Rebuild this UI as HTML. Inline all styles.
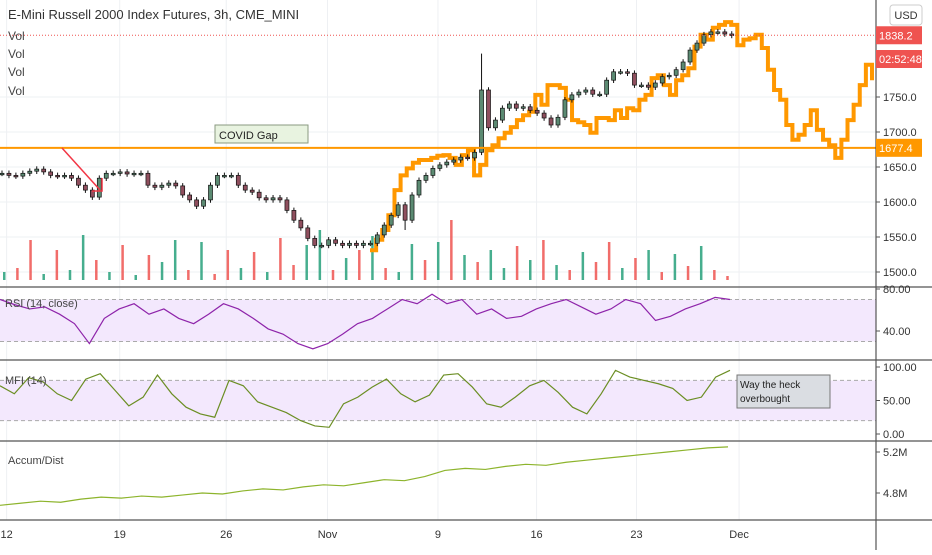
<!DOCTYPE html>
<html><head><meta charset="utf-8"><style>
body{margin:0;background:#fff;font-family:"Liberation Sans",sans-serif}
svg text{font-family:"Liberation Sans",sans-serif}
</style></head><body>
<svg id="c" width="932" height="550" xmlns="http://www.w3.org/2000/svg"></svg>
<script>
const priceBlack=[1641,1638,1637,1641,1644,1647,1643,1638,1637,1638,1634,1624,1617,1607,1634,1641,1641,1643,1640,1641,1641,1624,1621,1624,1627,1623,1610,1603,1594,1603,1624,1638,1638,1638,1624,1617,1614,1606,1603,1606,1603,1588,1574,1563,1548,1538,1538,1546,1541,1538,1541,1538,1541,1541,
1553,1567,1581,1596,1574,1610,1631,1638,1648,1653,1657,1660,1664,1663,1671,
1760,1706,1717,1734,1740,1734,1736,1731,1727,1720,1710,1721,1746,1753,1757,1760,1754,1754,1774,1786,1786,1784,1767,1767,1764,1770,1779,1781,1789,1800,1817,1827,1839,1843,1843,1840,1838];
const spikeIdx=[58,69];
const spikeVal=[1560,1812];
const priceOrange=[1531,1546,1560,1581,1617,1638,1648,1656,1660,1660,1663,1666,1667,1663,
1653,1667,1674,1638,1653,1674,1681,1691,1699,1707,1717,1724,1729,1753,1739,1767,1767,1763,1746,1717,1714,1710,1699,1720,1720,1717,1731,1720,1734,1731,1746,1753,1777,1781,1767,1753,1774,1781,1791,1822,1839,1832,1849,1853,1857,1853,1824,1832,1834,1839,1820,1789,1760,1746,1710,1689,1696,1710,1731,1703,1689,1681,1663,1689,1717,1739,1767,1796,1774];
const volume=[8,12,40,6,30,10,45,20,8,35,5,25,18,40,10,38,6,30,12,28,8,42,15,35,50,10,22,30,44,12,8,36,20,38,60,25,18,30,12,34,20,40,15,10,28,18,38,12,22,30,8,26,14,34,10,4];
const volUp=[1,0,0,1,0,1,1,0,1,0,1,0,1,1,0,1,0,0,1,0,1,0,0,1,1,0,1,0,1,0,1,1,0,1,0,1,0,1,1,0,1,0,1,0,1,0,0,1,0,1,0,1,0,1,0,0];
const rsi=[70,65,61,63,56,47,28,52,61,66,56,61,52,47,56,66,61,52,42,37,28,23,28,37,47,52,61,70,66,75,66,70,56,61,52,54,61,66,70,63,56,61,70,66,50,54,61,66,72,70];
const mfi=[72,60,84,78,60,50,82,90,66,42,55,88,60,40,30,25,80,72,48,40,32,20,12,10,45,55,70,82,60,48,58,88,90,70,45,40,55,72,80,62,40,30,60,95,85,80,75,68,50,55,85,95];
const accum=[4.68,4.70,4.72,4.71,4.74,4.76,4.75,4.77,4.76,4.78,4.80,4.79,4.82,4.84,4.83,4.86,4.88,4.87,4.90,4.93,4.92,4.96,5.02,5.04,5.03,5.06,5.08,5.07,5.10,5.12,5.14,5.16,5.18,5.20,5.22,5.24,5.25];
const priceTicks=[1500,1550,1600,1650,1700,1750];
const rsiTicks=[40,80];const mfiTicks=[0,50,100];const accTicks=[4.8,5.2];
const timeLabels=["12","19","26","Nov","9","16","23","Dec"];
const timeIdx=[0.2,8.8,16.9,24.6,33.0,40.5,48.1,55.9];

const S=document.getElementById('c');const NS='http://www.w3.org/2000/svg';
function el(t,a,txt){const e=document.createElementNS(NS,t);for(const k in a)e.setAttribute(k,a[k]);if(txt!=null)e.textContent=txt;S.appendChild(e);return e;}
const PX=876;
const xT=i=>i*13.15+4;
const xB=i=>i*6.95+2;
const xO=i=>370+i*(502/(priceOrange.length-1));
const yP=v=>97+(1750-v)*0.7;
const yR=v=>289+(80-v)*1.05;
const yM=v=>367+(100-v)*0.67;
const yA=v=>493-(v-4.8)*102.5;
for(const v of priceTicks){let g=el('line',{x1:0,x2:PX,y1:yP(v),y2:yP(v),stroke:'#eef0f3'});}
for(const i of timeIdx){let g=el('line',{x1:xT(i),x2:xT(i),y1:0,y2:520,stroke:'#eef0f3'});}
let b=el('rect',{x:0,y:yR(70),width:PX,height:yR(30)-yR(70),fill:'#f3e8fd'});
el('line',{x1:0,x2:PX,y1:yR(70),y2:yR(70),stroke:'#aaa','stroke-dasharray':'4,3'});
el('line',{x1:0,x2:PX,y1:yR(30),y2:yR(30),stroke:'#aaa','stroke-dasharray':'4,3'});
b=el('rect',{x:0,y:yM(80),width:PX,height:yM(20)-yM(80),fill:'#f3e8fd'});
el('line',{x1:0,x2:PX,y1:yM(80),y2:yM(80),stroke:'#aaa','stroke-dasharray':'4,3'});
el('line',{x1:0,x2:PX,y1:yM(20),y2:yM(20),stroke:'#aaa','stroke-dasharray':'4,3'});
volume.forEach((v,i)=>{let r=el('rect',{x:xT(i)-1,y:280-v,width:2.5,height:v,fill:volUp[i]?'#26a07a':'#ef5350',opacity:0.85});
});
let d='';priceOrange.forEach((v,i)=>{const x=xO(i),y=yP(v);d+=(i?'H'+x+'V'+y:'M'+x+' '+y);});
let o=el('path',{d:d,fill:'none',stroke:'#ff9800','stroke-width':4,'stroke-linejoin':'miter'});

priceBlack.forEach((v,i)=>{const p=i?priceBlack[i-1]:v;const x=xB(i);
let hi=Math.max(v,p)+4,lo=Math.min(v,p)-4;const k=spikeIdx.indexOf(i);
if(k>=0){if(spikeVal[k]>hi)hi=spikeVal[k];if(spikeVal[k]<lo)lo=spikeVal[k];}
let w=el('line',{x1:x,x2:x,y1:yP(hi),y2:yP(lo),stroke:'#111','stroke-width':1});
let c=el('rect',{x:x-2,y:yP(Math.max(v,p)),width:4,height:Math.max(1.5,Math.abs(yP(v)-yP(p))),fill:v>=p?'#5b8a72':'#8f4f5e',stroke:'#111','stroke-width':0.7});
});
let h=el('line',{x1:0,x2:PX,y1:yP(1677.4),y2:yP(1677.4),stroke:'#ff9800','stroke-width':2});
h=el('line',{x1:0,x2:PX,y1:yP(1838.2),y2:yP(1838.2),stroke:'#ef5350','stroke-dasharray':'1,2'});
el('polyline',{points:'62,148 100,190',stroke:'#f23645','stroke-width':1.5,fill:'none'});
let ar=el('polyline',{points:'92,191 102,191 102,178',fill:'none',stroke:'#f23645','stroke-width':1.5});
function line(arr,fy,col,name,x0,x1){const st=(x1-x0)/(arr.length-1);let p=el('polyline',{points:arr.map((v,i)=>(x0+i*st)+','+fy(v)).join(' '),fill:'none',stroke:col,'stroke-width':1.2});}
line(rsi,yR,'#8e24aa','rsi-line',0,730);
line(mfi,yM,'#6b8e23','mfi-line',0,730);
line(accum,yA,'#8db42c','accum-dist-line',0,728);
let a=el('rect',{x:215,y:125,width:93,height:18,fill:'#e8f3e0',stroke:'#8a9a80'});
el('text',{x:219,y:139,'font-size':11,fill:'#222'},'COVID Gap');
a=el('rect',{x:737,y:375,width:93,height:33,fill:'#dadde2',stroke:'#777'});
el('text',{x:740,y:388,'font-size':10,fill:'#222'},'Way the heck');
el('text',{x:740,y:402,'font-size':10,fill:'#222'},'overbought');
for(const y of [287,360,441,520]){let s=el('line',{x1:0,x2:932,y1:y,y2:y,stroke:'#555','stroke-width':1.2});}
let ax=el('line',{x1:PX,x2:PX,y1:0,y2:550,stroke:'#555','stroke-width':1.2});
function tick(y,t,n){el('line',{x1:PX,x2:PX+4,y1:y,y2:y,stroke:'#555'});let tx=el('text',{x:PX+7,y:y+4,'font-size':11,fill:'#333'},t);}
priceTicks.forEach(v=>tick(yP(v),v.toFixed(1),'price-tick'));
rsiTicks.forEach(v=>tick(yR(v),v.toFixed(2),'rsi-tick'));
mfiTicks.forEach(v=>tick(yM(v),v.toFixed(2),'mfi-tick'));
accTicks.forEach(v=>tick(yA(v),v.toFixed(1)+'M','accum-tick'));
timeLabels.forEach((t,k)=>{let tx=el('text',{x:xT(timeIdx[k]),y:538,'font-size':11,fill:'#333','text-anchor':'middle'},t);});
function badge(y,t,col,n){let r=el('rect',{x:PX,y:y-9,width:46,height:18,fill:col});el('text',{x:PX+3,y:y+4,'font-size':11,fill:'#fff'},t);}
badge(yP(1838.2),'1838.2','#ef5350','last-price-badge');
badge(59,'02:52:48','#ef5350','countdown-badge');
badge(yP(1677.4),'1677.4','#ff9800','gap-price-badge');
let u=el('rect',{x:890,y:5,width:32,height:20,rx:3,fill:'#fff',stroke:'#ccc'});
el('text',{x:906,y:19,'font-size':11,fill:'#333','text-anchor':'middle'},'USD');
let t=el('text',{x:8,y:19,'font-size':13,fill:'#333'},'E-Mini Russell 2000 Index Futures, 3h, CME_MINI');
[40,58,76,95].forEach(y=>{let v=el('text',{x:8,y:y,'font-size':12,fill:'#444'},'Vol');});
t=el('text',{x:5,y:307,'font-size':11,fill:'#444'},'RSI (14, close)');
t=el('text',{x:5,y:384,'font-size':11,fill:'#444'},'MFI (14)');
t=el('text',{x:8,y:464,'font-size':11,fill:'#444'},'Accum/Dist');
</script>
</body></html>
